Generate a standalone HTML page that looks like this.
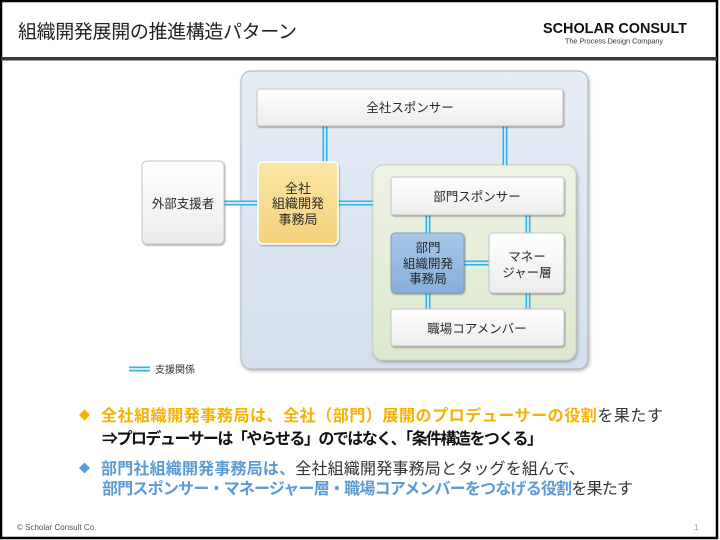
<!DOCTYPE html>
<html>
<head>
<meta charset="utf-8">
<style>
html,body{margin:0;padding:0;background:#fff;}
body{width:720px;height:540px;overflow:hidden;}
svg{display:block;}
text{font-family:"Liberation Sans","Noto Sans CJK JP",sans-serif;}
</style>
</head>
<body>
<svg width="720" height="540" viewBox="0 0 720 540" xmlns="http://www.w3.org/2000/svg">
<defs>
  <linearGradient id="gWhite" x1="0" y1="0" x2="0" y2="1">
    <stop offset="0" stop-color="#ffffff"/>
    <stop offset="1" stop-color="#ececec"/>
  </linearGradient>
  <linearGradient id="gYellow" x1="0" y1="0" x2="0" y2="1">
    <stop offset="0" stop-color="#fbe6a4"/>
    <stop offset="1" stop-color="#f4d27c"/>
  </linearGradient>
  <linearGradient id="gBlueBox" x1="0" y1="0" x2="0" y2="1">
    <stop offset="0" stop-color="#a7c6e8"/>
    <stop offset="1" stop-color="#88afda"/>
  </linearGradient>
  <linearGradient id="gBlueC" x1="0" y1="0" x2="0" y2="1">
    <stop offset="0" stop-color="#e6edf6"/>
    <stop offset="1" stop-color="#d3dfee"/>
  </linearGradient>
  <linearGradient id="gGreenC" x1="0" y1="0" x2="0" y2="1">
    <stop offset="0" stop-color="#eef4e5"/>
    <stop offset="1" stop-color="#dce8cd"/>
  </linearGradient>
  <filter id="sh" x="-10%" y="-10%" width="130%" height="130%">
    <feDropShadow dx="0.8" dy="1.2" stdDeviation="0.9" flood-color="#000" flood-opacity="0.35"/>
  </filter>
  <filter id="shC" x="-10%" y="-10%" width="130%" height="130%">
    <feDropShadow dx="1" dy="1.5" stdDeviation="1.5" flood-color="#000" flood-opacity="0.3"/>
  </filter>
</defs>

<!-- frame -->
<rect x="1" y="1" width="716" height="537" fill="#fff" stroke="#000" stroke-width="2.5"/>
<rect x="1" y="57" width="716" height="3.5" fill="#3a3a3a"/>

<!-- header -->
<text x="18" y="38" font-size="19" fill="#222" textLength="279" lengthAdjust="spacing">組織開発展開の推進構造パターン</text>
<text x="543" y="33" font-size="15" font-weight="bold" fill="#111" textLength="144" lengthAdjust="spacingAndGlyphs">SCHOLAR CONSULT</text>
<text x="565" y="43.5" font-size="7" fill="#333" textLength="98" lengthAdjust="spacingAndGlyphs">The Process Design Company</text>

<!-- containers -->
<rect x="241" y="71" width="347" height="298" rx="10" fill="url(#gBlueC)" stroke="#aab4c2" stroke-width="1" filter="url(#shC)"/>
<rect x="373" y="165" width="203" height="195" rx="10" fill="url(#gGreenC)" stroke="#c9d6b8" stroke-width="1" filter="url(#shC)"/>

<!-- connectors (double lines) -->
<g stroke-linecap="butt">
  <g stroke="#35b3e6" stroke-width="5">
    <line x1="325" y1="126" x2="325" y2="162"/>
    <line x1="505" y1="126" x2="505" y2="165"/>
    <line x1="224" y1="203" x2="258" y2="203"/>
    <line x1="338" y1="203" x2="373" y2="203"/>
    <line x1="428" y1="215" x2="428" y2="233"/>
    <line x1="528" y1="215" x2="528" y2="233"/>
    <line x1="464" y1="263" x2="489" y2="263"/>
    <line x1="428" y1="293" x2="428" y2="309"/>
    <line x1="528" y1="293" x2="528" y2="309"/>
    <line x1="129" y1="369" x2="150" y2="369"/>
  </g>
  <g stroke="#ffffff" stroke-width="1.4">
    <line x1="325" y1="126" x2="325" y2="162"/>
    <line x1="505" y1="126" x2="505" y2="165"/>
    <line x1="224" y1="203" x2="258" y2="203"/>
    <line x1="338" y1="203" x2="373" y2="203"/>
    <line x1="428" y1="215" x2="428" y2="233"/>
    <line x1="528" y1="215" x2="528" y2="233"/>
    <line x1="464" y1="263" x2="489" y2="263"/>
    <line x1="428" y1="293" x2="428" y2="309"/>
    <line x1="528" y1="293" x2="528" y2="309"/>
    <line x1="129" y1="369" x2="150" y2="369"/>
  </g>
</g>

<!-- boxes -->
<rect x="257" y="89" width="306" height="37" rx="3" fill="url(#gWhite)" stroke="#c4c4c4" stroke-width="1" filter="url(#sh)"/>
<rect x="142" y="161" width="82" height="83" rx="5" fill="url(#gWhite)" stroke="#c4c4c4" stroke-width="1" filter="url(#sh)"/>
<rect x="258" y="162" width="80" height="82" rx="5" fill="url(#gYellow)" stroke="#ffffff" stroke-width="1.5" filter="url(#sh)"/>
<rect x="391" y="177" width="173" height="38" rx="3" fill="url(#gWhite)" stroke="#c4c4c4" stroke-width="1" filter="url(#sh)"/>
<rect x="391" y="233" width="73" height="60" rx="4" fill="url(#gBlueBox)" stroke="#7f9fc6" stroke-width="1" filter="url(#sh)"/>
<rect x="489" y="233" width="75" height="60" rx="4" fill="url(#gWhite)" stroke="#c4c4c4" stroke-width="1" filter="url(#sh)"/>
<rect x="391" y="309" width="173" height="37" rx="3" fill="url(#gWhite)" stroke="#c4c4c4" stroke-width="1" filter="url(#sh)"/>

<!-- box labels -->
<g font-size="12.5" fill="#2a2a2a" text-anchor="middle">
  <text x="410" y="112">全社スポンサー</text>
  <text x="183" y="208">外部支援者</text>
  <text x="298" y="193" font-size="13">全社</text>
  <text x="298" y="208" font-size="13">組織開発</text>
  <text x="298" y="224" font-size="13">事務局</text>
  <text x="477" y="201">部門スポンサー</text>
  <text x="428" y="252">部門</text>
  <text x="428" y="268">組織開発</text>
  <text x="428" y="283">事務局</text>
  <text x="527" y="261">マネー</text>
  <text x="527" y="277">ジャー層</text>
  <text x="477" y="333">職場コアメンバー</text>
</g>

<!-- legend -->
<text x="155" y="373" font-size="10" fill="#333">支援関係</text>

<!-- bottom text -->
<polygon points="84.5,409.5 90,415 84.5,420.5 79,415" fill="#f9b000"/>
<text x="101" y="421" font-size="16" textLength="562" lengthAdjust="spacing"><tspan font-weight="bold" fill="#f9b000">全社組織開発事務局は、全社（部門）展開のプロデューサーの役割</tspan><tspan fill="#333">を果たす</tspan></text>
<text x="102" y="444" font-size="16" font-weight="bold" fill="#111" textLength="441" lengthAdjust="spacing">⇒プロデューサーは「やらせる」のではなく、「条件構造をつくる」</text>

<polygon points="84.5,462.5 90,468 84.5,473.5 79,468" fill="#5b9bd5"/>
<text x="101" y="474" font-size="16" textLength="484" lengthAdjust="spacing"><tspan font-weight="bold" fill="#5b9bd5">部門社組織開発事務局は、</tspan><tspan fill="#333">全社組織開発事務局とタッグを組んで、</tspan></text>
<text x="102" y="494" font-size="16" textLength="531" lengthAdjust="spacing"><tspan font-weight="bold" fill="#5b9bd5">部門スポンサー・マネージャー層・職場コアメンバーをつなげる役割</tspan><tspan fill="#333">を果たす</tspan></text>

<!-- footer -->
<text x="17" y="530" font-size="8" fill="#555">© Scholar Consult Co.</text>
<text x="694" y="530" font-size="8" fill="#999">1</text>
</svg>
</body>
</html>
